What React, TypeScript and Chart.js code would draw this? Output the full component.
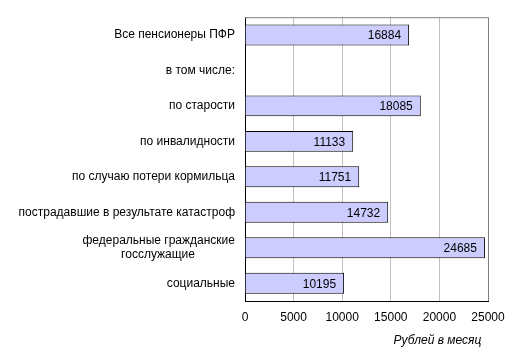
import React, { useEffect, useRef } from "react";
import { Chart, registerables } from "chart.js";

Chart.register(...registerables);

const NB = "\u00A0";
const categories: (string | string[])[] = [
  "Все пенсионеры ПФР",
  "в том числе:",
  "по старости",
  "по инвалидности",
  "по случаю потери кормильца",
  "пострадавшие в результате катастроф",
  ["федеральные гражданские", "госслужащие" + NB.repeat(12)],
  "социальные",
];
const values: (number | null)[] = [16884, null, 18085, 11133, 11751, 14732, 24685, 10195];
const xTicks = [0, 5000, 10000, 15000, 20000, 25000];
const axisTitle = "Рублей в месяц" + NB + NB;

const FONT = "'Liberation Sans', Arial, sans-serif";

const valueLabels = {
  id: "valueLabels",
  afterDatasetsDraw(chart: any) {
    const ctx = chart.ctx;
    const meta = chart.getDatasetMeta(0);
    ctx.save();
    ctx.font = `12px ${FONT}`;
    ctx.fillStyle = "#000";
    ctx.textAlign = "right";
    ctx.textBaseline = "middle";
    meta.data.forEach((el: any, i: number) => {
      const v = values[i];
      if (v == null) return;
      ctx.fillText(String(v), el.x - 8, el.y + 1);
    });
    ctx.restore();
  },
};

const plotBorder = {
  id: "plotBorder",
  beforeDatasetsDraw(chart: any) {
    const { ctx, chartArea: a } = chart;
    ctx.save();
    ctx.strokeStyle = "#808080";
    ctx.lineWidth = 1;
    ctx.beginPath();
    ctx.moveTo(a.left, a.top + 0.5);
    ctx.lineTo(a.right + 0.5, a.top + 0.5);
    ctx.lineTo(a.right + 0.5, a.bottom);
    ctx.stroke();
    ctx.restore();
  },
};

export default function App() {
  const ref = useRef<HTMLCanvasElement>(null);
  useEffect(() => {
    document.body.style.margin = "0";
    const chart = new Chart(ref.current!, {
      type: "bar",
      data: {
        labels: categories,
        datasets: [
          {
            data: values,
            backgroundColor: "#ccccff",
            borderColor: "#000000",
            borderWidth: 1,
            barPercentage: 0.59,
            categoryPercentage: 1,
          },
        ],
      },
      options: {
        indexAxis: "y",
        animation: false,
        responsive: true,
        maintainAspectRatio: false,
        layout: { padding: { left: 0, right: 29, top: 14, bottom: 0 } },
        plugins: { legend: { display: false }, tooltip: { enabled: false } },
        scales: {
          x: {
            min: 0,
            max: 25000,
            afterBuildTicks(scale: any) {
              scale.ticks = xTicks.map((v) => ({ value: v }));
            },
            afterFit(scale: any) {
              scale.height = 55;
            },
            ticks: {
              color: "#000",
              font: { family: FONT, size: 12 },
              padding: 9,
              maxRotation: 0,
              callback: (v: any) => String(v),
            },
            grid: { color: "#c0c0c0", drawTicks: false },
            border: { color: "#000", width: 1 },
            title: {
              display: true,
              text: axisTitle,
              align: "end",
              color: "#000",
              font: { family: FONT, size: 12, style: "italic" },
              padding: { top: 0, bottom: 8 },
            },
          },
          y: {
            afterFit(scale: any) {
              scale.width = 245;
            },
            ticks: {
              color: "#000",
              font: { family: FONT, size: 12 },
              padding: 10,
              autoSkip: false,
            },
            grid: { display: false, drawTicks: false },
            border: { color: "#000", width: 1 },
          },
        },
      },
      plugins: [plotBorder, valueLabels],
    } as any);
    return () => chart.destroy();
  }, []);
  return (
    <div style={{ position: "absolute", left: 0, top: 0, width: 517, height: 356 }}>
      <canvas ref={ref} />
    </div>
  );
}
